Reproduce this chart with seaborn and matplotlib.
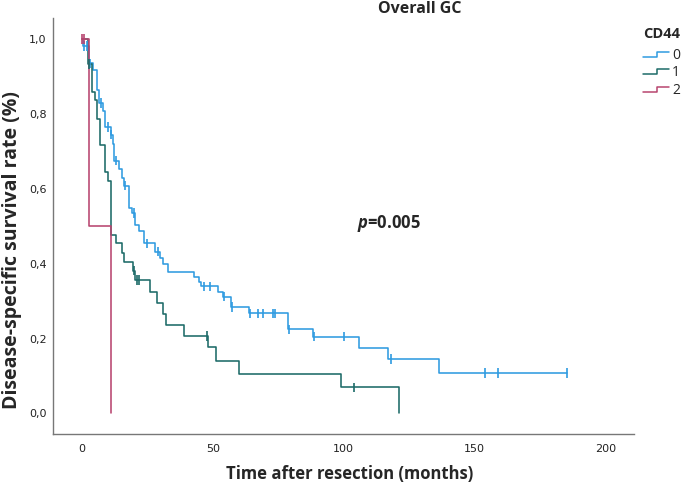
import numpy as np
import pandas as pd
import matplotlib
matplotlib.use("Agg")
import matplotlib.pyplot as plt
import seaborn as sns
from matplotlib.lines import Line2D
from matplotlib.legend_handler import HandlerBase

sns.set_style("white")
plt.rcParams['font.family'] = ['Open Sans', 'DejaVu Sans']
plt.rcParams['mathtext.fontset'] = 'custom'
plt.rcParams['mathtext.it'] = 'Open Sans:italic:bold'
plt.rcParams['mathtext.rm'] = 'Open Sans:bold'

# ---------------- data ----------------
groups = ["0", "1", "2"]

g0_time = [0, 0.4, 2.7, 4.1, 5.6, 6.3, 7.9, 8.8, 10.9, 11.7, 12.4, 14.3, 15.2, 16.2,
           18.1, 19.0, 20.3, 21.9, 23.8, 27.9, 29.8, 30.9, 33.0, 42.9, 44.7, 45.5,
           52.1, 53.8, 56.8, 64.0, 78.9, 88.2, 106.0, 117.1, 136.3, 185.4]
g0_surv = [1.0, 0.981, 0.935, 0.916, 0.864, 0.829, 0.809, 0.765, 0.744, 0.720, 0.675,
           0.652, 0.628, 0.608, 0.548, 0.535, 0.503, 0.488, 0.454, 0.432, 0.414, 0.399,
           0.379, 0.364, 0.352, 0.339, 0.325, 0.312, 0.284, 0.267, 0.225, 0.205, 0.174,
           0.145, 0.108, 0.108]
g0_cens = [0.8, 1.8, 3.0, 7.2, 10.1, 11.0, 13.0, 16.6, 19.9, 24.7, 29.2, 46.7, 49.0,
           54.3, 57.2, 64.2, 67.2, 69.1, 72.9, 73.8, 79.2, 88.8, 100.2, 118.0, 154.1,
           159.2, 185.4]

g1_time = [0, 2.2, 3.9, 4.8, 5.9, 6.9, 8.8, 10.1, 11.2, 13.0, 15.2, 16.1, 19.6, 20.3,
           26.0, 28.8, 31.1, 32.0, 39.0, 48.3, 51.1, 60.0, 99.0, 121.0]
g1_surv = [1.0, 0.933, 0.858, 0.836, 0.787, 0.717, 0.646, 0.622, 0.477, 0.455, 0.428,
           0.405, 0.381, 0.356, 0.325, 0.296, 0.266, 0.236, 0.207, 0.177, 0.141, 0.105,
           0.070, 0.0]
g1_cens = [2.5, 19.8, 21.1, 21.8, 47.7, 104.1]

g2_time = [0, 2.8, 11.0]
g2_surv = [1.0, 0.5, 0.0]
g2_cens = [0.0, 0.6]

x_ticks = [0, 50, 100, 150, 200]
y_ticks = [0.0, 0.2, 0.4, 0.6, 0.8, 1.0]
y_ticklabels = ["0,0", "0,2", "0,4", "0,6", "0,8", "1,0"]

title = "Overall GC"
x_label = "Time after resection (months)"
y_label = "Disease-specific survival rate (%)"
legend_title = "CD44"
p_text = "$p$=0.005"

colors = {"0": "#2f9be0", "1": "#1d6b68", "2": "#b8456f"}

# ---------------- build tables ----------------
curves = []
cens = []
for g, t, s, c in [("0", g0_time, g0_surv, g0_cens),
                   ("1", g1_time, g1_surv, g1_cens),
                   ("2", g2_time, g2_surv, g2_cens)]:
    curves.append(pd.DataFrame({"time": t, "surv": s, "CD44": g}))
    t_arr = np.asarray(t)
    s_arr = np.asarray(s)
    idx = np.searchsorted(t_arr, np.asarray(c), side="right") - 1
    cens.append(pd.DataFrame({"time": c, "surv": s_arr[idx], "CD44": g}))
curve_df = pd.concat(curves, ignore_index=True)
cens_df = pd.concat(cens, ignore_index=True)

# ---------------- plot ----------------
fig = plt.figure(figsize=(6.85, 4.84), dpi=100)
ax = fig.add_axes([0.077, 0.1033, 0.8485, 0.8587])

sns.lineplot(data=curve_df, x="time", y="surv", hue="CD44", palette=colors,
             estimator=None, drawstyle="steps-post", linewidth=1.15,
             legend=False, ax=ax)
sns.scatterplot(data=cens_df, x="time", y="surv", hue="CD44", palette=colors,
                marker="|", s=45, linewidth=1.2, legend=False, ax=ax, zorder=3)

ax.set_xlim(-11.2, 211)
ax.set_ylim(-0.055, 1.055)
ax.set_xticks(x_ticks)
ax.set_xticklabels([str(v) for v in x_ticks], fontfamily="DejaVu Sans", fontsize=8)
ax.set_yticks(y_ticks)
ax.set_yticklabels(y_ticklabels, fontfamily="DejaVu Sans", fontsize=8)
ax.tick_params(axis="both", length=0, colors="#222222")
ax.tick_params(axis="y", pad=4.5)
ax.tick_params(axis="x", pad=7)
ax.set_xlabel("")
ax.set_ylabel("")
for side in ["top", "right"]:
    ax.spines[side].set_visible(False)
for side in ["left", "bottom"]:
    ax.spines[side].set_color("#777777")
    ax.spines[side].set_linewidth(1.0)

ax.text(105.2, 0.506, p_text, fontsize=12, fontweight="bold", ha="left", va="center")

fig.text(420 / 685, 1 - 9 / 484, title, fontsize=11.5, fontweight="bold",
         ha="center", va="center")
fig.text(350 / 685, 1 - 474 / 484, x_label, fontsize=12, fontweight="bold",
         ha="center", va="center")
fig.text(12 / 685, 1 - 250 / 484, y_label, fontsize=14, fontweight="bold",
         ha="center", va="center", rotation=90)


class StepHandler(HandlerBase):
    def create_artists(self, legend, orig_handle, xdescent, ydescent, width,
                       height, fontsize, trans):
        x0 = -xdescent
        y0 = -ydescent
        xs = [x0, x0 + 0.56 * width, x0 + 0.56 * width, x0 + width]
        ys = [y0 + 0.22 * height, y0 + 0.22 * height, y0 + 0.72 * height, y0 + 0.72 * height]
        ln = Line2D(xs, ys, color=orig_handle.get_color(), lw=1.1)
        ln.set_transform(trans)
        return [ln]


handles = [Line2D([], [], color=colors[g]) for g in groups]
leg = fig.legend(handles, groups, loc="upper left",
                 bbox_to_anchor=(643 / 685, 1 - 27 / 484), frameon=False,
                 title=legend_title, title_fontproperties={"weight": "bold", "size": 10.5},
                 fontsize=10, handlelength=1.85, handletextpad=0.25,
                 labelspacing=0.17, borderpad=0, borderaxespad=0,
                 handler_map={Line2D: StepHandler()})
leg._legend_box.align = "left"
leg._legend_box.sep = 5

fig.savefig("out.png", dpi=100)
